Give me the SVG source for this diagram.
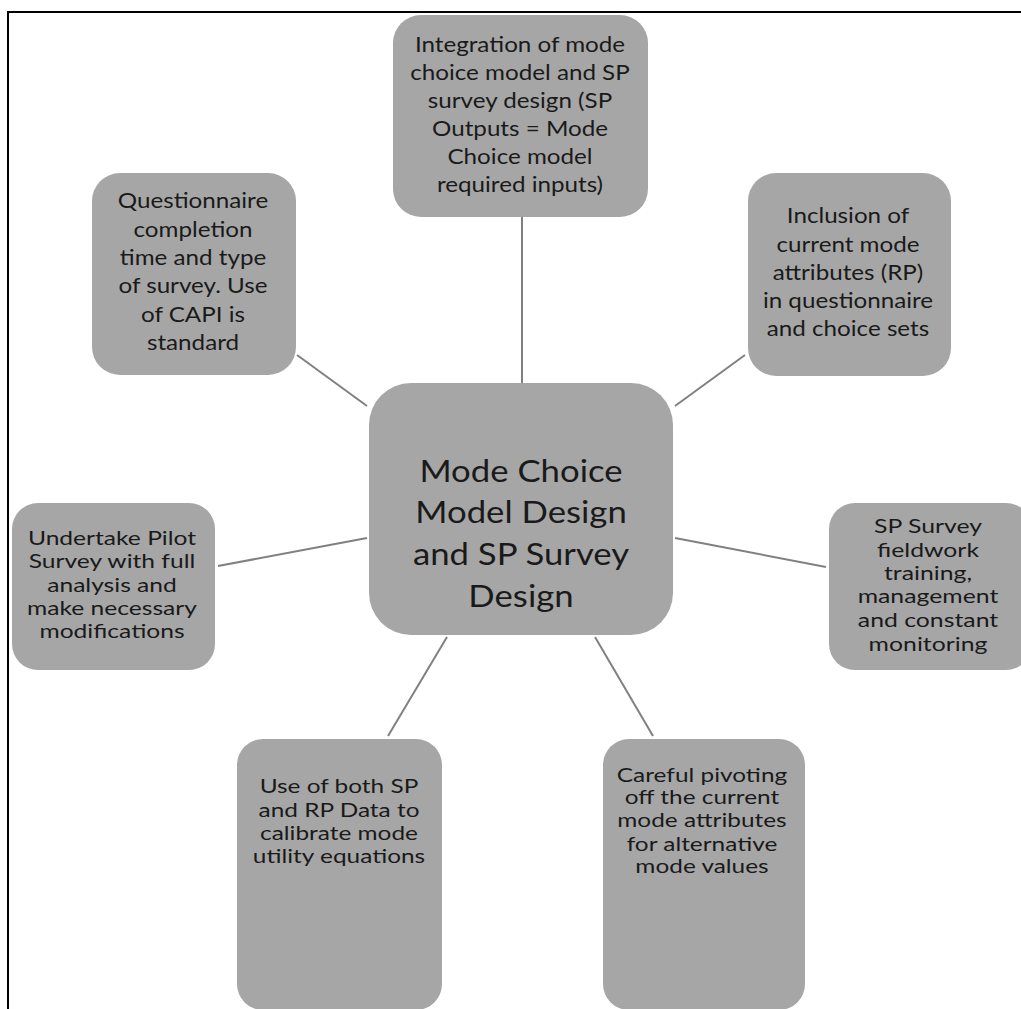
<svg xmlns="http://www.w3.org/2000/svg" width="1021" height="1009" viewBox="0 0 1021 1009">
<style>
.box{fill:#a6a6a6;}
.t{font-family:Lato,"Open Sans","Liberation Sans",sans-serif;fill:#1a1a1a;text-anchor:middle;}
.s22{font-size:22px;}
.s20{font-size:20px;}
.big{font-size:31px;}
.ln{stroke:#808080;stroke-width:2;fill:none;}
</style>
<rect x="0" y="0" width="1021" height="1009" fill="#ffffff"/>
<rect x="8" y="12" width="1040" height="1030" fill="none" stroke="#000" stroke-width="2"/>
<g id="connectors">
<line class="ln" x1="522" y1="217" x2="522" y2="383"/>
<line class="ln" x1="297" y1="355" x2="367" y2="406"/>
<line class="ln" x1="745" y1="355" x2="675" y2="406"/>
<line class="ln" x1="218" y1="566" x2="367" y2="538"/>
<line class="ln" x1="675" y1="538" x2="826" y2="567"/>
<line class="ln" x1="447" y1="637" x2="388" y2="736"/>
<line class="ln" x1="595" y1="637" x2="653" y2="736"/>
</g>
<g id="center">
<rect class="box" x="369" y="383" width="304" height="252" rx="42"/>
<text class="t big" transform="translate(521 0) scale(1.12 1)"><tspan x="0" y="482">Mode Choice</tspan><tspan x="0" y="523">Model Design</tspan><tspan x="0" y="565">and SP Survey</tspan><tspan x="0" y="607">Design</tspan></text>
</g>
<g id="integration">
<rect class="box" x="393" y="15" width="255" height="202" rx="28"/>
<text class="t s22" transform="translate(520 0) scale(1.1 1)"><tspan x="0" y="52">Integration of mode</tspan><tspan x="0" y="80">choice model and SP</tspan><tspan x="0" y="108">survey design (SP</tspan><tspan x="0" y="136">Outputs = Mode</tspan><tspan x="0" y="164">Choice model</tspan><tspan x="0" y="192">required  inputs)</tspan></text>
</g>
<g id="questionnaire">
<rect class="box" x="92" y="173" width="204" height="202" rx="28"/>
<text class="t s22" transform="translate(193 0) scale(1.1 1)"><tspan x="0" y="208">Questionnaire</tspan><tspan x="0" y="237">completion</tspan><tspan x="0" y="265">time and type</tspan><tspan x="0" y="293">of survey. Use</tspan><tspan x="0" y="322">of CAPI is</tspan><tspan x="0" y="350">standard</tspan></text>
</g>
<g id="inclusion">
<rect class="box" x="748" y="173" width="203" height="203" rx="28"/>
<text class="t s22" transform="translate(848 0) scale(1.1 1)"><tspan x="0" y="223">Inclusion of</tspan><tspan x="0" y="252">current mode</tspan><tspan x="0" y="280">attributes (RP)</tspan><tspan x="0" y="308">in questionnaire</tspan><tspan x="0" y="336">and choice sets</tspan></text>
</g>
<g id="pilot">
<rect class="box" x="12" y="503" width="203" height="167" rx="26"/>
<text class="t s20" transform="translate(112 0) scale(1.23 1)"><tspan x="0" y="545">Undertake Pilot</tspan><tspan x="0" y="568">Survey with full</tspan><tspan x="0" y="592">analysis and</tspan><tspan x="0" y="615">make necessary</tspan><tspan x="0" y="638">modifications</tspan></text>
</g>
<g id="fieldwork">
<rect class="box" x="829" y="503" width="203" height="167" rx="26"/>
<text class="t s20" transform="translate(928 0) scale(1.24 1)"><tspan x="0" y="533">SP Survey</tspan><tspan x="0" y="557">fieldwork</tspan><tspan x="0" y="580">training,</tspan><tspan x="0" y="603">management</tspan><tspan x="0" y="627">and constant</tspan><tspan x="0" y="651">monitoring</tspan></text>
</g>
<g id="calibrate">
<rect class="box" x="237" y="739" width="205" height="271" rx="26"/>
<text class="t s20" transform="translate(339 0) scale(1.22 1)"><tspan x="0" y="793">Use of both SP</tspan><tspan x="0" y="817">and RP Data to</tspan><tspan x="0" y="840">calibrate mode</tspan><tspan x="0" y="863">utility equations</tspan></text>
</g>
<g id="pivoting">
<rect class="box" x="603" y="739" width="202" height="271" rx="26"/>
<text class="t s20" transform="translate(702 0) scale(1.22 1)"><tspan x="0" y="782">Careful pivoting</tspan><tspan x="0" y="804">off the current</tspan><tspan x="0" y="827">mode attributes</tspan><tspan x="0" y="851">for alternative</tspan><tspan x="0" y="873">mode values</tspan></text>
</g>
</svg>
